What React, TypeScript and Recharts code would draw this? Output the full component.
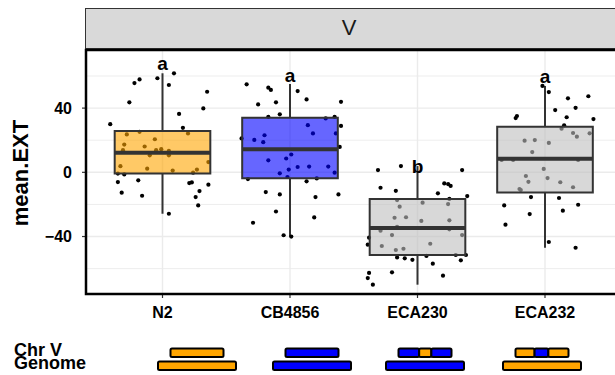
import { ComposedChart, Scatter, XAxis, YAxis, ReferenceArea, ReferenceLine } from 'recharts'

const strains = ['N2', 'CB4856', 'ECA230', 'ECA232']

// box stats
const q1 = [-0.8, -3.7, -51.5, -12.5]
const median = [12.2, 14.3, -34.7, 8.5]
const q3 = [25.8, 34.0, -16.6, 28.4]
const whiskerLow = [-25.8, -40.0, -70.0, -47.0]
const whiskerHigh = [61.7, 55.0, 3.9, 53.8]

const letters = ['a', 'a', 'b', 'a']
const letterY = [63.7, 56.3, -0.4, 55.6]

const yTicks = [-40, 0, 40]
const yMinor = [-60, -20, 20, 60]

// jittered points: horizontal offset + value
const n2Jitter = [0.09, -0.04, 0.05, -0.18, -0.22, 0.35, -0.26, 0.32, 0.13, -0.41, 0.16, 0.2, -0.28, -0.18, -0.3, -0.06, -0.14, -0.01, -0.05, 0.05, -0.31, -0.1, 0.05, 0.36, -0.33, -0.12, 0.27, 0.08, 0.24, -0.35, -0.3, -0.35, -0.19, 0.21, 0.23, 0.36, -0.32, 0.29, -0.16, 0.26, 0.28, 0.05]
const n2Values = [61.7, 58.6, 54.4, 57.9, 55.6, 50.2, 43.6, 39.8, 36.4, 30.0, 27.7, 24.2, 23.6, 25.2, 17.3, 20.6, 16.1, 14.4, 13.8, 13.3, 13.8, 10.6, 10.6, 6.4, 3.8, 2.3, 1.7, 1.1, -0.2, -0.8, -1.3, -6.1, -5.0, -6.7, -6.3, -7.7, -12.7, -11.7, -14.6, -15.4, -20.6, -25.8]

const cbJitter = [-0.34, -0.17, -0.15, 0.06, 0.13, -0.25, -0.11, 0.4, -0.17, -0.08, 0.28, 0.35, 0.14, 0.4, 0.18, 0.36, -0.2, -0.38, -0.28, -0.21, 0.39, 0.01, -0.03, -0.17, 0.06, 0.15, 0.3, -0.01, -0.08, 0.35, -0.02, -0.33, 0.21, 0.13, -0.19, -0.08, 0.2, 0.38, -0.11, 0.19, -0.29, -0.05, 0.01]
const cbValues = [54.8, 52.7, 51.3, 50.6, 45.4, 42.3, 43.6, 43.9, 34.6, 36.1, 33.6, 34.6, 29.4, 28.9, 24.2, 24.2, 23.1, 21.1, 20.2, 18.8, 15.8, 11.1, 8.6, 7.5, 3.3, 3.6, 3.6, 1.7, -0.6, -0.2, -2.9, -4.2, -3.8, -5.6, -12.3, -13.8, -15.4, -13.8, -24.4, -28.1, -31.4, -39.2, -40.0]

const eca230Jitter = [-0.31, -0.13, 0.35, -0.29, -0.17, 0.21, 0.24, 0.26, 0.16, 0.39, -0.16, 0.25, 0.04, -0.14, 0.24, -0.18, -0.09, 0.03, 0.25, -0.16, -0.29, 0.25, -0.2, 0.35, -0.38, -0.39, -0.28, 0.1, -0.17, -0.11, -0.16, -0.1, -0.04, 0.07, 0.3, 0.38, 0.34, 0.12, -0.2, -0.38, -0.39, 0.2, -0.35]
const eca230Values = [1.4, 3.9, 1.4, -9.6, -11.5, -6.9, -7.3, -8.5, -13.1, -14.8, -17.3, -16.6, -18.9, -21.4, -19.8, -28.3, -28.0, -30.3, -29.9, -33.9, -36.4, -35.5, -39.1, -39.1, -40.7, -45.1, -45.9, -44.5, -48.4, -47.6, -53.0, -53.6, -54.5, -52.1, -51.5, -51.5, -54.8, -56.9, -62.3, -62.7, -65.9, -64.4, -70.0]

const eca232Jitter = [-0.02, 0.03, 0.18, 0.34, 0.24, 0.08, -0.22, -0.23, 0.17, 0.38, 0.15, 0.13, 0.22, 0.25, 0.35, -0.16, -0.08, 0.03, -0.1, -0.34, -0.25, 0.26, -0.01, -0.15, 0.02, -0.13, 0.12, 0.22, -0.2, -0.19, -0.11, 0.11, -0.32, 0.26, -0.12, 0.14, -0.31, 0.03, 0.24]
const eca232Values = [53.8, 50.0, 46.1, 47.4, 40.2, 38.8, 35.1, 33.8, 34.3, 33.2, 29.3, 27.2, 24.5, 22.2, 24.3, 19.7, 20.1, 18.3, 12.6, 7.7, 7.7, 7.7, 2.1, -2.3, -3.6, -5.9, -6.2, -9.3, -10.4, -11.0, -15.4, -16.0, -20.6, -20.2, -26.0, -23.9, -32.6, -43.4, -47.0]

// genotype strip under the axis
const chrVAlleles = [['N2'], ['CB'], ['CB', 'N2', 'CB'], ['N2', 'CB', 'N2']]
const chrVBreaks = [[], [], [0.39, 0.62], [0.36, 0.62]]
const genomeAllele = ['N2', 'CB', 'CB', 'N2']

const alleleColor: Record<string, string> = { N2: '#FFA500', CB: '#0000FF' }
const boxColor = ['#FFA500', '#0000FF', '#BEBEBE', '#BEBEBE']

const yDomain = [-75.8, 76.2]
const xDomain = [-0.6, 3.6]
const font = '"Liberation Sans", Arial, sans-serif'

const jitters = [n2Jitter, cbJitter, eca230Jitter, eca232Jitter]
const values = [n2Values, cbValues, eca230Values, eca232Values]
const points = values.flatMap((vals, g) => vals.map((v, k) => ({ x: g + jitters[g][k], y: v })))
const letterData = letters.map((l, i) => ({ x: i, y: letterY[i], label: l }))

const fmt = (v: number) => (v < 0 ? `\u2212${-v}` : `${v}`)

function Genotypes() {
  const centers = [197, 312, 425, 542]
  const chrW = 53
  const genW = 78
  return (
    <svg width={615} height={375} style={{ position: 'absolute', left: 0, top: 0, pointerEvents: 'none' }}>
      <text x={14} y={355.5} fontFamily={font} fontWeight={700} fontSize={18} fill="#000">Chr V</text>
      <text x={14} y={369} fontFamily={font} fontWeight={700} fontSize={18} fill="#000">Genome</text>
      {centers.map((c, i) => {
        const left = c - chrW / 2
        const edges = [0, ...chrVBreaks[i], 1]
        return (
          <g key={i}>
            {chrVAlleles[i].map((a, s) => (
              <rect key={s} x={left + edges[s] * chrW} y={348.5} width={(edges[s + 1] - edges[s]) * chrW} height={8.5}
                rx={1.5} fill={alleleColor[a]} stroke="#000" strokeWidth={2} />
            ))}
            <rect x={c - genW / 2} y={361.5} width={genW} height={8.5} rx={1.5}
              fill={alleleColor[genomeAllele[i]]} stroke="#000" strokeWidth={2} />
          </g>
        )
      })}
    </svg>
  )
}

export default function App() {
  return (
    <div style={{ position: 'absolute', left: 0, top: 0, width: 615, height: 375, overflow: 'hidden', background: '#fff', fontFamily: font }}>
      <div style={{ position: 'absolute', left: 85, top: 8, width: 560, height: 39, background: '#D9D9D9', border: '1.3px solid #333' }} />
      <div style={{ position: 'absolute', left: 349, top: 28, transform: 'translate(-50%, -50%)', fontSize: 22, color: '#1a1a1a', lineHeight: 1 }}>V</div>
      <div style={{ position: 'absolute', left: 0, top: 0 }}>
        <ComposedChart width={640} height={375} margin={{ top: 50, right: 18.5, bottom: 51, left: 26 }}>
          <XAxis type="number" dataKey="x" domain={xDomain} ticks={[0, 1, 2, 3]} interval={0} allowDataOverflow
            tickFormatter={(v: number) => strains[v]} axisLine={false} tickLine={{ stroke: '#333', strokeWidth: 1.2 }}
            tickSize={4} tickMargin={9} height={30}
            tick={{ fill: '#000', fontSize: 16, fontWeight: 700, fontFamily: font }} />
          <YAxis type="number" dataKey="y" domain={yDomain} ticks={yTicks} allowDataOverflow width={60}
            tickFormatter={fmt} axisLine={false} tickLine={{ stroke: '#333', strokeWidth: 1.2 }}
            tickSize={4} tickMargin={10}
            tick={{ fill: '#000', fontSize: 16, fontWeight: 700, fontFamily: font }} />
          {yMinor.map(v => <ReferenceLine key={'mi' + v} y={v} stroke="#EBEBEB" strokeWidth={0.9} />)}
          {yTicks.map(v => <ReferenceLine key={'ma' + v} y={v} stroke="#EBEBEB" strokeWidth={1.4} />)}
          {strains.map((s, i) => <ReferenceLine key={'v' + s} x={i} stroke="#EBEBEB" strokeWidth={1.4} />)}
          <Scatter data={points} isAnimationActive={false}
            shape={(p: any) => <circle cx={p.cx} cy={p.cy} r={2.1} fill="#000" />} />
          {strains.map((s, i) => (
            <ReferenceLine key={'wh' + s} segment={[{ x: i, y: whiskerHigh[i] }, { x: i, y: q3[i] }]} stroke="#333" strokeWidth={2} />
          ))}
          {strains.map((s, i) => (
            <ReferenceLine key={'wl' + s} segment={[{ x: i, y: q1[i] }, { x: i, y: whiskerLow[i] }]} stroke="#333" strokeWidth={2} />
          ))}
          {strains.map((s, i) => (
            <ReferenceArea key={'b' + s} x1={i - 0.375} x2={i + 0.375} y1={q1[i]} y2={q3[i]}
              fill={boxColor[i]} fillOpacity={0.6} stroke="#333" strokeWidth={2} zIndex={700} />
          ))}
          {strains.map((s, i) => (
            <ReferenceLine key={'m' + s} segment={[{ x: i - 0.375, y: median[i] }, { x: i + 0.375, y: median[i] }]}
              stroke="#333" strokeWidth={4} zIndex={710} />
          ))}
          <Scatter data={letterData} isAnimationActive={false}
            shape={(p: any) => (
              <text x={p.cx} y={p.cy} textAnchor="middle" fontSize={19} fontWeight={700} fontFamily={font} fill="#000">
                {p.payload.label}
              </text>
            )} />
          <ReferenceArea x1={xDomain[0]} x2={xDomain[1]} y1={yDomain[0]} y2={yDomain[1]} fill="none"
            stroke="#000" strokeWidth={2.5} zIndex={720} />
        </ComposedChart>
      </div>
      <Genotypes />
      <div style={{ position: 'absolute', left: 21, top: 173, transform: 'translate(-50%, -50%) rotate(-90deg)', fontSize: 22, fontWeight: 700, color: '#000', whiteSpace: 'nowrap', lineHeight: 1 }}>
        mean.EXT
      </div>
    </div>
  )
}
